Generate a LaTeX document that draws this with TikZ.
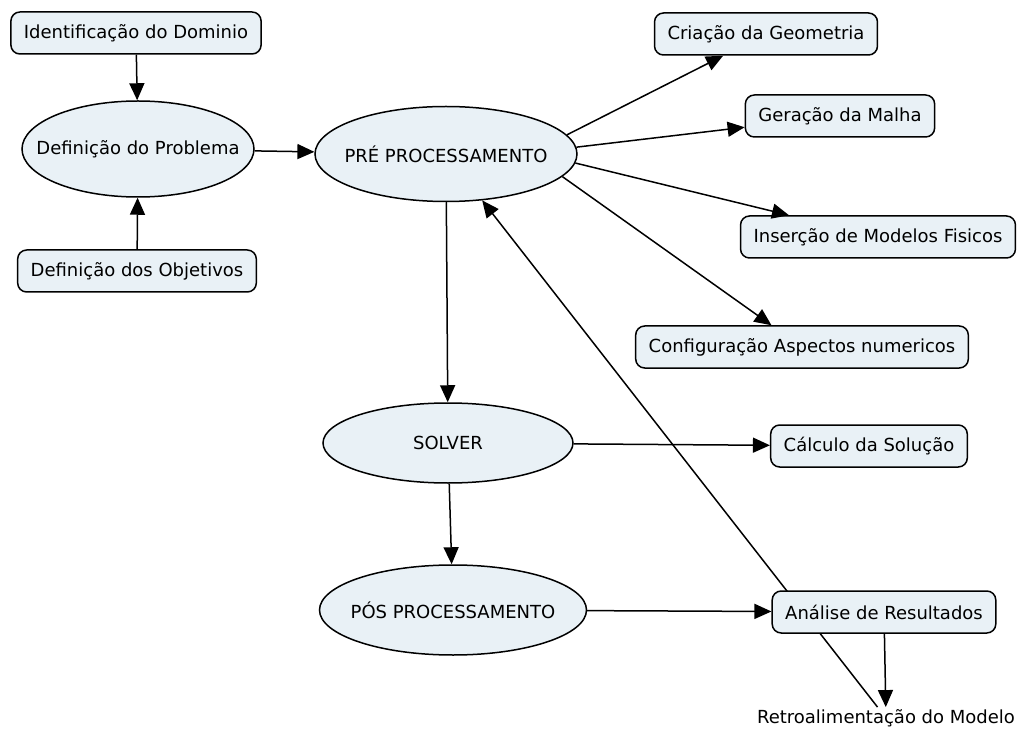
\documentclass[tikz,border=0pt]{standalone}
\usepackage{fontspec}
\setmainfont{DejaVu Sans}
\usetikzlibrary{shapes,arrows.meta,backgrounds}

\definecolor{nodefill}{RGB}{233,241,246}

\begin{document}
\begin{tikzpicture}[
  x=1pt,y=-1pt,
  >={Triangle[length=17pt,width=15pt]},
  every node/.style={font=\fontsize{18}{21}\selectfont},
  box/.style={draw,rectangle,rounded corners=9pt,fill=nodefill,line width=1.5pt,minimum height=42pt,inner xsep=13pt},
  oval/.style={draw,ellipse,fill=nodefill,line width=1.5pt,minimum height=96pt,inner sep=0pt},
  link/.style={->,line width=1.5pt},
]
\useasboundingbox (0,0) rectangle (1023,735);

% left column
\node[box] (id) at (136,33) {Identificação do Dominio};
\node[oval,minimum width=232pt,label=center:{Definição do Problema}] (dp) at (138,149) {};
\node[box] (dob) at (137,271) {Definição dos Objetivos};

% middle column
\node[oval,minimum width=262pt,minimum height=95pt,label=center:{PRÉ PROCESSAMENTO}] (pre) at (446,154) {};
\node[oval,minimum width=250pt,minimum height=80pt,label=center:{SOLVER}] (sol) at (448,443) {};
\node[oval,minimum width=267pt,minimum height=90pt,label=center:{PÓS PROCESSAMENTO}] (pos) at (453,610) {};

% right column
\node[box] (geo) at (766,34) {Criação da Geometria};
\node[box] (mal) at (840,116) {Geração da Malha};
\node[box] (fis) at (878,237) {Inserção de Modelos Fisicos};
\node[box] (num) at (802,347) {Configuração Aspectos numericos};
\node[box] (calc) at (869,446) {Cálculo da Solução};
\node[box] (res) at (884,612) {Análise de Resultados};
\node[inner sep=2pt] (ret) at (886,718) {Retroalimentação do Modelo};

\draw[link] (id) -- (dp);
\draw[link] (dob) -- (dp);
\draw[link] (dp) -- (pre);
\draw[link] (pre.9) -- (geo);
\draw[link] (pre.3) -- (mal);
\draw[link] (pre.-4) -- (fis);
\draw[link] (pre.-11) -- (num);
\draw[link] (pre) -- (sol);
\draw[link] (sol) -- (calc);
\draw[link] (sol) -- (pos);
\draw[link] (pos) -- (res);
\draw[link] (res) -- (ret);

% feedback line runs behind the result box
\begin{pgfonlayer}{background}
\draw[link] (ret) -- (pre);
\end{pgfonlayer}

\end{tikzpicture}
\end{document}
